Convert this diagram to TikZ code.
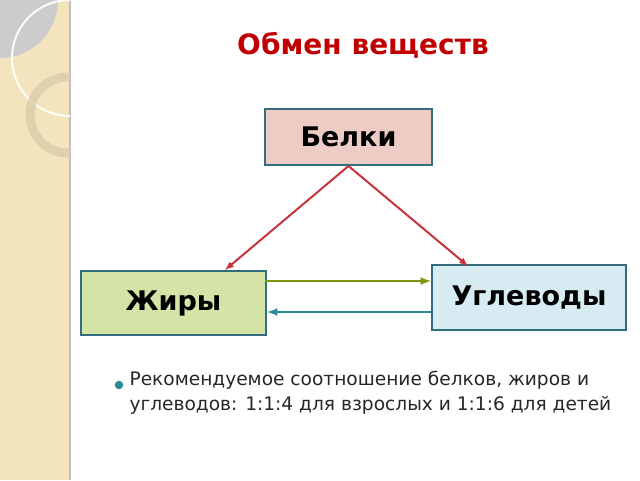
\documentclass[tikz,border=0pt]{standalone}
\usepackage{fontspec}
\setmainfont{DejaVu Sans}
\definecolor{titlered}{RGB}{192,0,0}
\definecolor{arrred}{RGB}{200,50,60}
\definecolor{boxedge}{RGB}{50,110,125}
\definecolor{belkifill}{RGB}{236,204,196}
\definecolor{zhirfill}{RGB}{212,228,166}
\definecolor{uglfill}{RGB}{214,236,242}
\definecolor{stripe}{RGB}{244,228,190}
\begin{document}
\begin{tikzpicture}[x=1pt,y=-1pt,
  box/.style={draw=boxedge,line width=2pt,inner sep=0pt,anchor=north west,font=\fontsize{27}{30}\selectfont\bfseries}]
\useasboundingbox (0,0) rectangle (640,480);
% side stripe
\fill[stripe] (0,0) rectangle (70,480);
\draw[black!25,line width=2pt] (70,0) -- (70,480);
\begin{scope}
\clip (0,0) rectangle (70,480);
\fill[black!20] (0,0) circle (58);
\draw[white!90!stripe,line width=2pt] (70,58) circle (58);
\draw[black!10!stripe,line width=9pt,opacity=0.8] (68,115) circle (38);
\end{scope}
% title
\node (title) at (363,45) {\color{titlered}\fontsize{28}{32}\selectfont\bfseries Обмен веществ};
% boxes
\node[box,fill=belkifill,minimum width=167pt,minimum height=56pt] (belki) at (264,108) {Белки};
\node[box,fill=zhirfill,minimum width=185pt,minimum height=64pt] (zhiry) at (80,270) {Жиры};
\node[box,fill=uglfill,minimum width=194pt,minimum height=65pt] (uglev) at (431,264) {Углеводы};
% arrows
\draw[arrred,line width=2pt,-latex] (belki.south) -- (225,270);
\draw[arrred,line width=2pt,-latex] (belki.south) -- (468,266);
\draw[olive!70!green,line width=2.5pt,-latex] (265,281) -- (uglev.west |- 0,281);
\draw[boxedge!80!cyan,line width=2.5pt,-latex] (431,312) -- (zhiry.east |- 0,312);
% note
\node[circle,fill=boxedge!80!cyan,inner sep=3pt] (dot) at (119,385) {};
\node[anchor=north west,align=left,font=\fontsize{18.6}{25}\selectfont,text=black!85] (note) at (126,368)
  {Рекомендуемое соотношение белков, жиров и\\углеводов: 1:1:4 для взрослых и 1:1:6 для детей};
\end{tikzpicture}
\end{document}
